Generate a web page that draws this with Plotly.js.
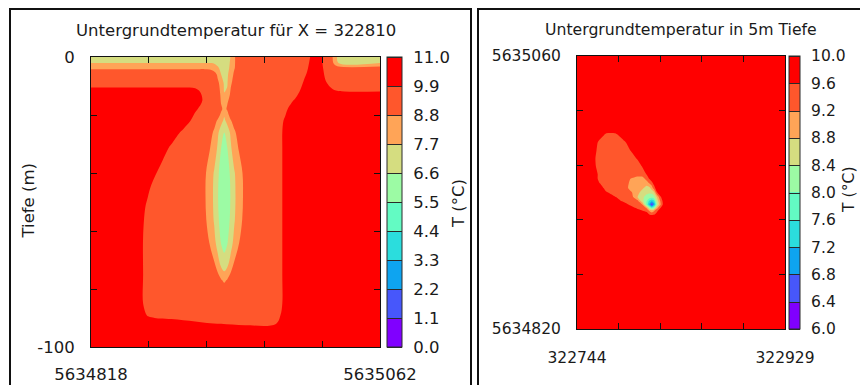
<!DOCTYPE html>
<html>
<head>
<meta charset="utf-8">
<script src="https://cdn.plot.ly/plotly-3.0.1.min.js"></script>
<style>
html,body{margin:0;padding:0;background:#fff;}
#chart{width:860px;height:385px;}
</style>
</head>
<body>
<div id="chart"></div>
<script>
// ================= DATA =================
// Left panel: vertical section at X = 322810 (northing vs depth)
const sectionStart = 5634818;          // northing of left axis end
const sectionEnd = 5635062;            // northing of right axis end
const depthRange = [-100, 0];
const sectionTickText = ['5634818', '', '', '', '', '5635062'];
const depthTickText = ['-100', '', '', '', '', '0'];

// main warm/cool body (distance along section in m from sectionStart, depth in m, T in °C)
const bodyDist = [0, 25, 40, 48, 58, 68, 78, 88, 98, 130, 156, 164, 172, 180, 190];
const bodyDepth = [0, -5, -9, -12, -15, -18, -22, -26, -31, -37, -44, -52, -62, -75, -85, -89, -92, -95, -100];
const bodyTemp = [
  [9.3, 9.3, 9.3, 9.3, 9.3, 9.3, 9.3, 9.3, 9.3, 9.3, 9.3, 9.3, 9.3, 9.3, 10.5],
  [9.3, 9.3, 9.3, 9.3, 9.3, 9.3, 9.3, 9.3, 9.3, 9.3, 9.3, 9.3, 9.3, 9.7, 10.5],
  [9.3, 9.3, 9.3, 9.3, 9.3, 9.3, 9.3, 9.3, 9.3, 9.3, 9.3, 9.3, 9.3, 10.0, 10.5],
  [10.5, 10.5, 10.5, 10.5, 10.5, 10.5, 10.5, 10.3, 9.3, 9.3, 9.3, 9.3, 9.3, 10.5, 10.5],
  [10.5, 10.5, 10.5, 10.5, 10.5, 10.5, 10.5, 10.5, 9.5, 9.3, 9.3, 9.3, 10.0, 10.5, 10.5],
  [10.5, 10.5, 10.5, 10.5, 10.5, 10.5, 10.5, 10.05, 9.3, 9.3, 9.3, 9.7, 10.5, 10.5, 10.5],
  [10.5, 10.5, 10.5, 10.5, 10.5, 10.5, 10.5, 9.5, 9.3, 9.3, 9.3, 10.04, 10.5, 10.5, 10.5],
  [10.5, 10.5, 10.5, 10.5, 10.5, 10.5, 9.64, 9.3, 9.3, 9.3, 9.3, 10.17, 10.5, 10.5, 10.5],
  [10.5, 10.5, 10.5, 10.5, 10.5, 9.75, 9.3, 9.3, 9.3, 9.3, 9.3, 10.17, 10.5, 10.5, 10.5],
  [10.5, 10.5, 10.5, 10.5, 9.97, 9.3, 9.3, 9.3, 9.3, 9.3, 9.3, 10.17, 10.5, 10.5, 10.5],
  [10.5, 10.5, 10.5, 10.16, 9.3, 9.3, 9.3, 9.3, 9.3, 9.3, 9.3, 10.17, 10.5, 10.5, 10.5],
  [10.5, 10.5, 10.5, 9.67, 9.3, 9.3, 9.3, 9.3, 9.3, 9.3, 9.3, 10.17, 10.5, 10.5, 10.5],
  [10.5, 10.5, 10.5, 9.3, 9.3, 9.3, 9.3, 9.3, 9.3, 9.3, 9.3, 10.17, 10.5, 10.5, 10.5],
  [10.5, 10.5, 10.5, 9.3, 9.3, 9.3, 9.3, 9.3, 9.3, 9.3, 9.3, 10.17, 10.5, 10.5, 10.5],
  [10.5, 10.5, 10.5, 9.3, 9.3, 9.3, 9.3, 9.3, 9.3, 9.3, 9.3, 10.17, 10.5, 10.5, 10.5],
  [10.5, 10.5, 10.5, 9.81, 9.3, 9.3, 9.3, 9.3, 9.3, 9.3, 9.3, 10.5, 10.5, 10.5, 10.5],
  [10.5, 10.5, 10.5, 10.5, 10.8, 10.6, 10.3, 10.12, 9.97, 9.78, 9.88, 10.5, 10.5, 10.5, 10.5],
  [10.5, 10.5, 10.5, 10.5, 10.5, 10.5, 10.5, 10.5, 10.5, 10.5, 10.5, 10.5, 10.5, 10.5, 10.5],
  [10.5, 10.5, 10.5, 10.5, 10.5, 10.5, 10.5, 10.5, 10.5, 10.5, 10.5, 10.5, 10.5, 10.5, 10.5]
];

// top-right corner region
const cornerDist = [188, 194, 200, 206, 214, 244];
const cornerDepth = [0, -4, -8, -10, -12, -14, -20];
const cornerTemp = [
  [10.5, 10.02, 9.3, 9.3, 9.3, 9.3],
  [10.5, 10.2, 9.3, 9.3, 9.3, 9.3],
  [10.5, 10.5, 9.6, 9.3, 9.3, 9.3],
  [10.5, 10.5, 10.02, 9.3, 9.3, 9.3],
  [10.5, 10.5, 10.5, 10.1, 9.93, 9.93],
  [10.5, 10.5, 10.5, 10.5, 10.5, 10.5],
  [10.5, 10.5, 10.5, 10.5, 10.5, 10.5]
];

// cold plume and top-left surface strip
const plumeDist = [0, 60, 92, 96, 100, 104, 107, 110, 112.5, 115, 118, 121, 125, 129, 134];
const plumeDepth = [0, -2, -4, -6, -9, -13, -16, -18, -20, -22, -26, -32, -40, -48, -56, -64, -70, -74, -77, -80];
const plumeTemp = [
  [7.2, 7.2, 7.2, 7.2, 7.2, 7.2, 7.2, 7.2, 7.2, 7.2, 7.75, 8.7, 9.3, 9.3, 9.3],
  [7.65, 7.65, 7.65, 7.65, 7.65, 7.6, 7.4, 7.2, 7.1, 7.2, 7.9, 8.7, 9.3, 9.3, 9.3],
  [8.75, 8.75, 8.75, 8.75, 8.7, 8.3, 7.9, 7.4, 7.25, 7.4, 7.95, 8.75, 9.3, 9.3, 9.3],
  [9.3, 9.3, 9.3, 9.3, 9.3, 9.3, 8.6, 7.65, 7.35, 7.5, 8.3, 9.0, 9.3, 9.3, 9.3],
  [9.3, 9.3, 9.3, 9.3, 9.3, 9.3, 9.0, 8.4, 7.5, 7.6, 8.6, 9.3, 9.3, 9.3, 9.3],
  [9.3, 9.3, 9.3, 9.3, 9.3, 9.3, 9.3, 8.6, 7.75, 7.9, 9.1, 9.3, 9.3, 9.3, 9.3],
  [9.3, 9.3, 9.3, 9.3, 9.3, 9.3, 9.3, 8.75, 8.25, 8.75, 9.3, 9.3, 9.3, 9.3, 9.3],
  [9.3, 9.3, 9.3, 9.3, 9.3, 9.3, 9.3, 8.95, 8.5, 8.9, 9.3, 9.3, 9.3, 9.3, 9.3],
  [9.3, 9.3, 9.3, 9.3, 9.3, 9.3, 9.3, 8.5, 7.8, 8.4, 9.3, 9.3, 9.3, 9.3, 9.3],
  [9.3, 9.3, 9.3, 9.3, 9.3, 9.3, 8.6, 8.0, 7.5, 8.0, 8.7, 9.3, 9.3, 9.3, 9.3],
  [9.3, 9.3, 9.3, 9.3, 9.3, 8.6, 7.9, 7.1, 6.6, 7.1, 7.9, 8.6, 9.3, 9.3, 9.3],
  [9.3, 9.3, 9.3, 9.3, 8.85, 8.3, 7.5, 6.5, 6.25, 6.5, 7.5, 8.3, 8.85, 9.3, 9.3],
  [9.3, 9.3, 9.3, 8.95, 8.4, 7.6, 6.75, 6.25, 6.05, 6.25, 6.75, 7.6, 8.4, 8.95, 9.3],
  [9.3, 9.3, 9.3, 8.9, 8.3, 7.5, 6.65, 6.2, 6.0, 6.2, 6.65, 7.5, 8.3, 8.9, 9.3],
  [9.3, 9.3, 9.3, 9.0, 8.4, 7.6, 6.75, 6.25, 6.05, 6.25, 6.75, 7.6, 8.4, 9.0, 9.3],
  [9.3, 9.3, 9.3, 9.3, 8.78, 8.0, 7.3, 6.5, 6.25, 6.5, 7.3, 8.0, 8.78, 9.3, 9.3],
  [9.3, 9.3, 9.3, 9.3, 9.3, 8.75, 7.95, 7.25, 6.85, 7.25, 7.95, 8.75, 9.3, 9.3, 9.3],
  [9.3, 9.3, 9.3, 9.3, 9.3, 9.3, 8.75, 7.95, 7.72, 7.95, 8.75, 9.3, 9.3, 9.3, 9.3],
  [9.3, 9.3, 9.3, 9.3, 9.3, 9.3, 9.3, 8.9, 8.6, 8.9, 9.3, 9.3, 9.3, 9.3, 9.3],
  [9.3, 9.3, 9.3, 9.3, 9.3, 9.3, 9.3, 9.3, 9.3, 9.3, 9.3, 9.3, 9.3, 9.3, 9.3]
];

// top-right surface strip
const capDist = [198, 203, 206, 209, 244];
const capDepth = [0, -2, -4, -6];
const capTemp = [
  [9.3, 9.1, 8.2, 7.3, 7.3],
  [9.3, 9.2, 8.4, 7.65, 7.65],
  [9.3, 9.3, 9.4, 9.4, 9.4],
  [9.3, 9.3, 9.3, 9.3, 9.3]
];

// Right panel: map at 5 m depth (easting vs northing)
const mapEast = [322744, 322929];
const mapNorth = [5634820, 5635060];
const mapEastTickText = ['322744', '', '', '', '', '322929'];
const mapNorthTickText = ['5634820', '', '', '', '', '5635060'];
const blobEast = [12, 16, 20, 26, 34, 42, 48, 54, 58, 62, 64.5, 66.5, 68.5, 71, 74, 77, 80];   // m east of 322744
const blobNorth = [99, 101, 104, 106.5, 109.5, 112.5, 116, 120, 124, 128, 132, 136, 143, 150, 157, 164, 170, 175]; // m north of 5634820
const blobTemp = [
  [9.9, 9.9, 9.9, 9.9, 9.9, 9.9, 9.9, 9.9, 9.9, 9.9, 9.9, 9.9, 9.9, 9.9, 9.9, 9.9, 9.9],
  [9.9, 9.9, 9.9, 9.9, 9.9, 9.9, 9.9, 9.9, 9.9, 9.9, 9.5, 9.4, 9.45, 9.8, 9.9, 9.9, 9.9],
  [9.9, 9.9, 9.9, 9.9, 9.9, 9.9, 9.9, 9.9, 9.62, 9.4, 9.15, 9.0, 9.15, 9.45, 9.9, 9.9, 9.9],
  [9.9, 9.9, 9.9, 9.9, 9.9, 9.9, 9.9, 9.4, 9.4, 9.15, 8.2, 7.8, 8.1, 9.0, 9.55, 9.9, 9.9],
  [9.9, 9.9, 9.9, 9.9, 9.9, 9.9, 9.4, 9.4, 9.2, 7.9, 7.1, 6.3, 7.0, 8.3, 9.1, 9.75, 9.9],
  [9.9, 9.9, 9.9, 9.9, 9.9, 9.45, 9.4, 9.3, 8.55, 8.0, 7.5, 7.25, 7.5, 8.5, 9.2, 9.8, 9.9],
  [9.9, 9.9, 9.9, 9.9, 9.62, 9.4, 9.4, 8.78, 8.5, 8.25, 8.2, 8.15, 8.25, 8.8, 9.5, 9.9, 9.9],
  [9.9, 9.9, 9.9, 9.65, 9.4, 9.4, 9.25, 8.95, 8.6, 8.5, 8.45, 8.5, 8.7, 9.55, 9.9, 9.9, 9.9],
  [9.9, 9.9, 9.9, 9.4, 9.4, 9.4, 9.05, 9.0, 8.9, 8.6, 8.7, 9.0, 9.4, 9.9, 9.9, 9.9, 9.9],
  [9.9, 9.9, 9.62, 9.4, 9.4, 9.4, 9.1, 9.0, 9.0, 9.0, 9.22, 9.4, 9.75, 9.9, 9.9, 9.9, 9.9],
  [9.9, 9.9, 9.4, 9.4, 9.4, 9.4, 9.18, 9.0, 9.0, 9.35, 9.62, 9.9, 9.9, 9.9, 9.9, 9.9, 9.9],
  [9.9, 9.9, 9.4, 9.4, 9.4, 9.4, 9.4, 9.4, 9.4, 9.62, 9.9, 9.9, 9.9, 9.9, 9.9, 9.9, 9.9],
  [9.9, 9.65, 9.4, 9.4, 9.4, 9.4, 9.4, 9.4, 9.62, 9.9, 9.9, 9.9, 9.9, 9.9, 9.9, 9.9, 9.9],
  [9.9, 9.62, 9.4, 9.4, 9.4, 9.4, 9.4, 9.65, 9.9, 9.9, 9.9, 9.9, 9.9, 9.9, 9.9, 9.9, 9.9],
  [9.9, 9.7, 9.4, 9.4, 9.4, 9.4, 9.62, 9.9, 9.9, 9.9, 9.9, 9.9, 9.9, 9.9, 9.9, 9.9, 9.9],
  [9.9, 9.9, 9.4, 9.4, 9.4, 9.5, 9.9, 9.9, 9.9, 9.9, 9.9, 9.9, 9.9, 9.9, 9.9, 9.9, 9.9],
  [9.9, 9.9, 9.9, 9.4, 9.4, 9.9, 9.9, 9.9, 9.9, 9.9, 9.9, 9.9, 9.9, 9.9, 9.9, 9.9, 9.9],
  [9.9, 9.9, 9.9, 9.9, 9.9, 9.9, 9.9, 9.9, 9.9, 9.9, 9.9, 9.9, 9.9, 9.9, 9.9, 9.9, 9.9]
];

// colour-bar levels and labels
const leftLevels = [0, 1.1, 2.2, 3.3, 4.4, 5.5, 6.6, 7.7, 8.8, 9.9, 11.0];
const leftLevelText = ['0.0', '1.1', '2.2', '3.3', '4.4', '5.5', '6.6', '7.7', '8.8', '9.9', '11.0'];
const rightLevels = [6.0, 6.4, 6.8, 7.2, 7.6, 8.0, 8.4, 8.8, 9.2, 9.6, 10.0];
const rightLevelText = ['6.0', '6.4', '6.8', '7.2', '7.6', '8.0', '8.4', '8.8', '9.2', '9.6', '10.0'];

// ================= STYLE =================
const PAL = ['#8000ff', '#4757fb', '#0ea4f0', '#2bdddd', '#63fbc3', '#9cfba4', '#d5dd80', '#ffa457', '#ff572c', '#ff0000'];
const CLEAR = 'rgba(0,0,0,0)';
const FONT = 'DejaVu Sans';
const TXT = '#1a1a1a';
const W = 860, H = 385;
const px = v => v / W, py = v => 1 - v / H;

function bandScale(cols) { const n = cols.length - 1; return cols.map((c, i) => [i / n, c]); }
function stepScale(cols) { const n = cols.length, s = []; cols.forEach((c, i) => { s.push([i / n, c]); s.push([(i + 1) / n, c]); }); return s; }
const neg = m => m.map(r => r.map(v => -v));

function cold(x, y, T, start, end, size, cols, xa, ya, smooth) {
  return {
    type: 'contour', x: x, y: y, z: neg(T), xaxis: xa, yaxis: ya,
    autocontour: false, contours: {start: start, end: end, size: size, coloring: 'fill', showlines: false},
    colorscale: bandScale(cols), showscale: false, hoverinfo: 'skip',
    line: {width: 0, smoothing: smooth}
  };
}

const dsec = d => d.map(v => sectionStart + v);
const dE = d => d.map(v => mapEast[0] + v);
const dN = d => d.map(v => mapNorth[0] + v);

const traces = [
  cold(dsec(bodyDist), bodyDepth, bodyTemp, -9.9, -8.8, 1.1, [CLEAR, PAL[8], PAL[7]], 'x', 'y', 1),
  cold(dsec(cornerDist), cornerDepth, cornerTemp, -9.9, -8.8, 1.1, [CLEAR, PAL[8], PAL[7]], 'x', 'y', 1),
  cold(dsec(plumeDist), plumeDepth, plumeTemp, -8.8, -5.5, 1.1, [CLEAR, PAL[7], PAL[6], PAL[5], PAL[4]], 'x', 'y', 1),
  cold(dsec(capDist), capDepth, capTemp, -8.8, -5.5, 1.1, [CLEAR, PAL[7], PAL[6], PAL[5], PAL[4]], 'x', 'y', 1),
  cold(dE(blobEast), dN(blobNorth), blobTemp, -9.6, -6.4, 0.4,
       [CLEAR, PAL[8], PAL[7], PAL[6], PAL[5], PAL[4], PAL[3], PAL[2], PAL[1], PAL[0]], 'x2', 'y2', 0.6),
  // colour bars
  {
    type: 'contour', x: [sectionStart, sectionEnd], y: depthRange,
    z: [[leftLevels[0], leftLevels[10]], [leftLevels[10], leftLevels[0]]],
    xaxis: 'x', yaxis: 'y', opacity: 0, hoverinfo: 'skip',
    autocontour: false, contours: {start: 0, end: 11, size: 1.1, coloring: 'heatmap', showlines: true},
    line: {width: 1, color: '#2a2a2a'},
    zmin: 0, zmax: 11, colorscale: stepScale(PAL), showscale: true,
    colorbar: {
      x: px(387), xanchor: 'left', xpad: 0, ypad: 0, y: py(202), yanchor: 'middle',
      len: 290 / H, lenmode: 'fraction', thickness: 15, thicknessmode: 'pixels',
      outlinewidth: 1, outlinecolor: '#2a2a2a',
      tickmode: 'array', tickvals: leftLevels, ticktext: leftLevelText,
      ticks: 'outside', ticklen: 8, tickcolor: CLEAR,
      tickfont: {family: FONT, size: 16.5, color: TXT}, title: {text: ''}
    }
  },
  {
    type: 'contour', x: mapEast, y: mapNorth,
    z: [[rightLevels[0], rightLevels[10]], [rightLevels[10], rightLevels[0]]],
    xaxis: 'x2', yaxis: 'y2', opacity: 0, hoverinfo: 'skip',
    autocontour: false, contours: {start: 6, end: 10, size: 0.4, coloring: 'heatmap', showlines: true},
    line: {width: 1, color: '#2a2a2a'},
    zmin: 6, zmax: 10, colorscale: stepScale(PAL), showscale: true,
    colorbar: {
      x: px(789), xanchor: 'left', xpad: 0, ypad: 0, y: py(192.5), yanchor: 'middle',
      len: 273 / H, lenmode: 'fraction', thickness: 11, thicknessmode: 'pixels',
      outlinewidth: 1, outlinecolor: '#2a2a2a',
      tickmode: 'array', tickvals: rightLevels, ticktext: rightLevelText,
      ticks: 'outside', ticklen: 8, tickcolor: CLEAR,
      tickfont: {family: FONT, size: 15.5, color: TXT}, title: {text: ''}
    }
  }
];

const tickPos = (a, b) => [0, 1, 2, 3, 4, 5].map(k => a + (b - a) * k / 5);
function ax(domain, range, ticktext, size, standoff) {
  return {
    domain: domain, range: range, tickmode: 'array', tickvals: tickPos(range[0], range[1]), ticktext: ticktext,
    ticks: 'inside', ticklen: 6, tickwidth: 1, tickcolor: '#111', mirror: 'allticks',
    showline: true, linecolor: '#111', linewidth: 1, showgrid: false, zeroline: false,
    tickfont: {family: FONT, size: size, color: TXT}, ticklabelstandoff: standoff, fixedrange: true
  };
}

const layout = {
  width: W, height: H, margin: {l: 0, r: 0, t: 0, b: 0},
  paper_bgcolor: '#ffffff', plot_bgcolor: '#ff0000', showlegend: false,
  font: {family: FONT, color: TXT},
  xaxis: ax([px(91), px(380)], [sectionStart, sectionEnd], sectionTickText, 16.5, 12),
  yaxis: Object.assign(ax([py(347), py(57)], depthRange, depthTickText, 16.5, 12), {anchor: 'x'}),
  xaxis2: Object.assign(ax([px(577), px(785)], mapEast, mapEastTickText, 15.5, 14), {anchor: 'y2'}),
  yaxis2: Object.assign(ax([py(329), py(56)], mapNorth, mapNorthTickText, 15.5, 12), {anchor: 'x2'}),
  shapes: [
    {type: 'rect', xref: 'paper', yref: 'paper', x0: px(10), x1: px(471), y0: -0.2, y1: py(9), line: {color: '#111', width: 2}},
    {type: 'rect', xref: 'paper', yref: 'paper', x0: px(478), x1: 1.2, y0: -0.2, y1: py(9), line: {color: '#111', width: 2}}
  ],
  annotations: [
    {text: 'Untergrundtemperatur für X = 322810', xref: 'paper', yref: 'paper', x: px(235.5), y: py(30), xanchor: 'center', yanchor: 'middle', showarrow: false, font: {family: FONT, size: 16.5, color: TXT}},
    {text: 'Untergrundtemperatur in 5m Tiefe', xref: 'paper', yref: 'paper', x: px(681), y: py(29), xanchor: 'center', yanchor: 'middle', showarrow: false, font: {family: FONT, size: 15.7, color: TXT}},
    {text: 'Tiefe (m)', xref: 'paper', yref: 'paper', x: px(28.5), y: py(201), xanchor: 'center', yanchor: 'middle', textangle: -90, showarrow: false, font: {family: FONT, size: 16.5, color: TXT}},
    {text: 'T (°C)', xref: 'paper', yref: 'paper', x: px(459), y: py(204), xanchor: 'center', yanchor: 'middle', textangle: -90, showarrow: false, font: {family: FONT, size: 16.5, color: TXT}},
    {text: 'T (°C)', xref: 'paper', yref: 'paper', x: px(849), y: py(190), xanchor: 'center', yanchor: 'middle', textangle: -90, showarrow: false, font: {family: FONT, size: 15.7, color: TXT}}
  ]
};

Plotly.newPlot('chart', traces, layout, {staticPlot: true, displayModeBar: false});
</script>
</body>
</html>
